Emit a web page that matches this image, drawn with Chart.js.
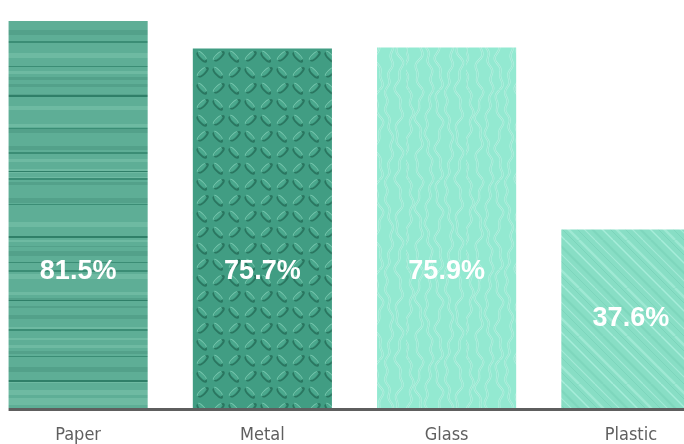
<!DOCTYPE html>
<html>
<head>
<meta charset="utf-8">
<script src="https://cdn.jsdelivr.net/npm/chart.js@4.4.1/dist/chart.umd.min.js"></script>
<style>
  html, body { margin: 0; padding: 0; background: #fff; overflow: hidden; width: 684px; height: 444px; }
  #wrap { position: absolute; left: -14px; top: 0; width: 737px; height: 462px; }
</style>
</head>
<body>
<div id="wrap"><canvas id="chart" width="737" height="462"></canvas></div>
<script>
const categories = ['Paper', 'Metal', 'Glass', 'Plastic'];
const shares = [81.5, 75.7, 75.9, 37.6];
const valueLabels = ['81.5%', '75.7%', '75.9%', '37.6%'];

// label sits at the bar middle, but never higher than this value
const LABEL_FLOOR = 28.8;

function tile(w, h, draw) {
  const c = document.createElement('canvas');
  c.width = w; c.height = h;
  const g = c.getContext('2d');
  draw(g, w, h);
  return g.createPattern(c, 'repeat');
}

// horizontal paper stripes
const paperTex = tile(8, 400, (g, w, h) => {
  g.fillStyle = '#5eae96';
  g.fillRect(0, 0, w, h);
  for (let y = 0; y < h; y++) {
    const s = Math.sin(y * 0.37) + Math.sin(y * 0.113 + 1.3) + Math.sin(y * 0.71 + 0.4);
    if (s > 1.3) { g.fillStyle = 'rgba(140,210,185,0.35)'; g.fillRect(0, y, w, 1); }
    else if (s < -1.4) { g.fillStyle = 'rgba(40,110,90,0.2)'; g.fillRect(0, y, w, 1); }
  }
  const dark = [14, 41, 66, 95, 128, 152, 171, 178, 204, 236, 262, 270, 300, 329, 356, 380];
  dark.forEach((y, i) => {
    g.fillStyle = i % 3 === 0 ? '#2f7f68' : '#3b8d75';
    g.fillRect(0, y, w, i % 2 ? 2 : 1);
  });
});

// diamond tread plate
const metalTex = tile(32, 32, (g, w, h) => {
  g.fillStyle = '#419d83';
  g.fillRect(0, 0, w, h);
  const bumps = [[8, 8, 1], [24, 24, 1], [24, 8, -1], [8, 24, -1]];
  bumps.forEach(([x, y, d]) => {
    g.save();
    g.translate(x, y);
    g.rotate(d * Math.PI / 4);
    g.lineWidth = 1.8;
    g.strokeStyle = '#2a7660';
    g.beginPath(); g.ellipse(0.8, 1.2, 6, 1.8, 0, 0, Math.PI * 2); g.stroke();
    g.fillStyle = '#4aa88d';
    g.beginPath(); g.ellipse(0, 0, 5.5, 1.5, 0, 0, Math.PI * 2); g.fill();
    g.strokeStyle = '#74c6ad';
    g.lineWidth = 1;
    g.beginPath(); g.ellipse(-0.4, -0.6, 5.5, 1.4, 0, Math.PI, Math.PI * 2); g.stroke();
    g.restore();
  });
});

// rippled glass
const glassTex = tile(60, 90, (g, w, h) => {
  g.fillStyle = '#93e9d1';
  g.fillRect(0, 0, w, h);
  for (let k = 0; k < 6; k++) {
    const x0 = k * 10 + 3;
    g.beginPath();
    for (let y = 0; y <= h; y += 2) {
      const x = x0 + 3 * Math.sin((y / h) * Math.PI * 2 * (k % 2 + 1) + k) + 1.5 * Math.sin(y * 0.35 + k);
      y === 0 ? g.moveTo(x, y) : g.lineTo(x, y);
    }
    g.lineWidth = 2.2;
    g.strokeStyle = 'rgba(200,250,235,0.6)';
    g.stroke();
    g.translate(1.5, 0);
    g.lineWidth = 1;
    g.strokeStyle = 'rgba(95,190,165,0.3)';
    g.stroke();
    g.translate(-1.5, 0);
  }
});

// brushed plastic, diagonal streaks
const plasticTex = tile(48, 48, (g, w, h) => {
  g.fillStyle = '#88dec5';
  g.fillRect(0, 0, w, h);
  const streaks = [[3, 'rgba(175,240,222,0.8)', 1.5], [11, 'rgba(110,200,175,0.45)', 1], [17, 'rgba(175,240,222,0.6)', 2.5],
                   [26, 'rgba(110,200,175,0.4)', 1], [33, 'rgba(175,240,222,0.7)', 1.2], [41, 'rgba(110,200,175,0.35)', 2]];
  streaks.forEach(([c, col, lw]) => {
    g.strokeStyle = col;
    g.lineWidth = lw;
    [-w, 0, w].forEach(o => {
      g.beginPath(); g.moveTo(c + o, 0); g.lineTo(c + o + w, h); g.stroke();
    });
  });
});

const baseline = {
  id: 'baseline',
  afterDatasetsDraw(chart) {
    const ctx = chart.ctx;
    const first = chart.getDatasetMeta(0).data[0];
    const y = chart.chartArea.bottom;
    ctx.save();
    ctx.fillStyle = '#5e5e5e';
    ctx.fillRect(first.x - first.width / 2, y, chart.width, 3);
    ctx.restore();
  }
};

const barLabels = {
  id: 'barLabels',
  afterDatasetsDraw(chart) {
    const ctx = chart.ctx;
    const yScale = chart.scales.y;
    ctx.save();
    ctx.font = 'bold 27px "Liberation Sans", Arial, sans-serif';
    ctx.fillStyle = '#ffffff';
    ctx.textAlign = 'center';
    ctx.textBaseline = 'middle';
    chart.getDatasetMeta(0).data.forEach((bar, i) => {
      const y = yScale.getPixelForValue(Math.min(shares[i] / 2, LABEL_FLOOR));
      ctx.fillText(valueLabels[i], bar.x, y);
    });
    ctx.restore();
  }
};

new Chart(document.getElementById('chart'), {
  type: 'bar',
  data: {
    labels: categories,
    datasets: [{
      data: shares,
      backgroundColor: [paperTex, metalTex, glassTex, plasticTex],
      borderWidth: 0,
      categoryPercentage: 1,
      barPercentage: 0.755
    }]
  },
  options: {
    responsive: false,
    animation: false,
    events: [],
    layout: { padding: { top: 9, left: 0, right: 0, bottom: 0 } },
    plugins: { legend: { display: false }, tooltip: { enabled: false } },
    scales: {
      x: {
        grid: { display: false, drawTicks: false },
        border: { display: false },
        ticks: {
          padding: 16.2,
          color: '#5f5f5f',
          font: { family: '"DejaVu Sans Condensed", "DejaVu Sans", sans-serif', size: 18, lineHeight: 1.2 }
        }
      },
      y: { display: false, min: 0, max: 84 }
    }
  },
  plugins: [baseline, barLabels]
});
</script>
</body>
</html>
